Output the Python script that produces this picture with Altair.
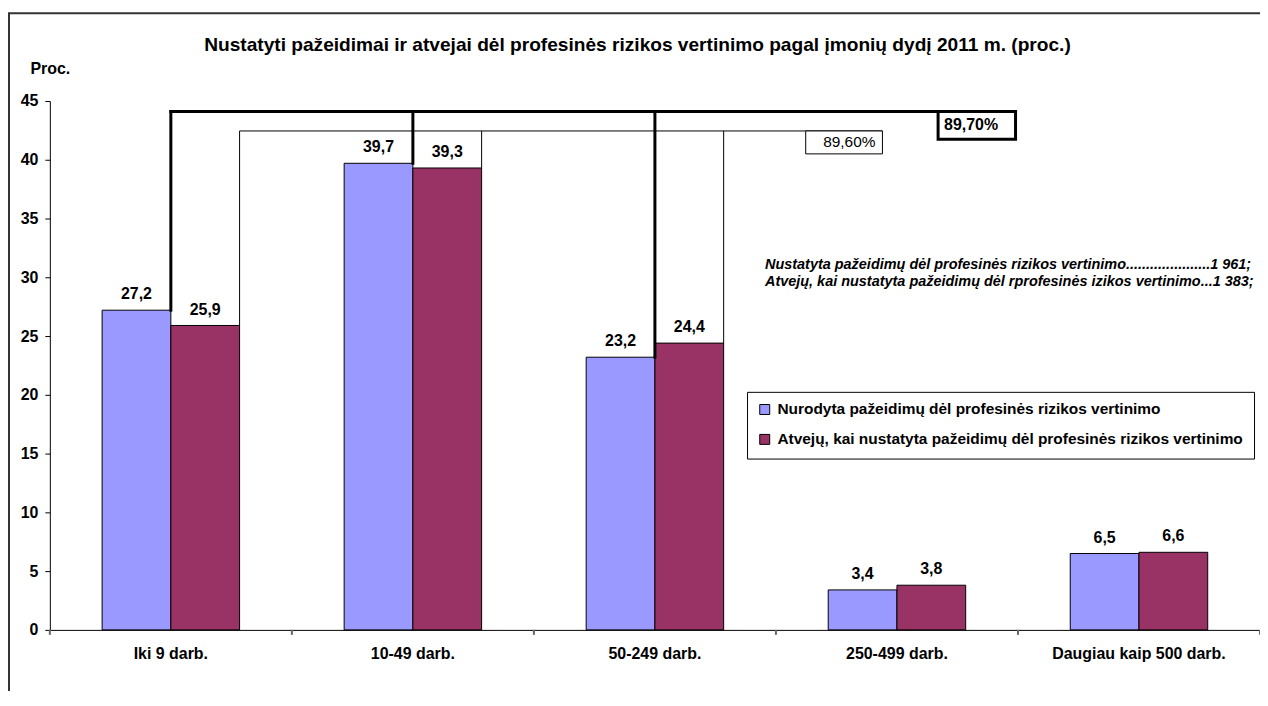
import altair as alt
import pandas as pd

FONT = "Liberation Sans"

# ---------------- data ----------------
categories = ["Iki 9 darb.", "10-49 darb.", "50-249 darb.", "250-499 darb.", "Daugiau kaip 500 darb."]
series_names = [
    "Nurodyta pažeidimų dėl profesinės rizikos vertinimo",
    "Atvejų, kai nustatyta pažeidimų dėl profesinės rizikos vertinimo",
]
values_nurodyta = [27.2, 39.7, 23.2, 3.4, 6.5]
values_atveju = [25.9, 39.3, 24.4, 3.8, 6.6]
series_colors = ["#9999FF", "#993366"]
y_tick_values = [0, 5, 10, 15, 20, 25, 30, 35, 40, 45]
chart_title = "Nustatyti pažeidimai ir atvejai dėl profesinės rizikos vertinimo pagal įmonių dydį 2011 m. (proc.)"
y_title = "Proc."
note_lines = [
    "Nustatyta pažeidimų dėl profesinės rizikos vertinimo.....................1 961;",
    "Atvejų, kai nustatyta pažeidimų dėl rprofesinės izikos vertinimo...1 383;",
]
share_labels = ["89,70%", "89,60%"]
bracketed_count = 3  # first three size groups are summed

# ---------------- layout ----------------
W, H = 1215, 531
P_IN, P_OUT = 0.432, 0.216
Y_MAX = 45
LEVEL_THICK, LEVEL_THIN = 44.1, 42.45
BOX_THICK = dict(x0=3.67, x1=3.99, y1=41.75)
BOX_THIN = dict(x0=3.123, x1=3.44, y1=40.5)

rows = []
for i, c in enumerate(categories):
    for s, vals in zip(series_names, [values_nurodyta, values_atveju]):
        rows.append({"cat": c, "series": s, "value": vals[i]})
bars_df = pd.DataFrame(rows)

x_band = alt.X(
    "cat:N",
    sort=categories,
    scale=alt.Scale(domain=categories, paddingInner=P_IN, paddingOuter=P_OUT),
    axis=alt.Axis(
        title=None, labelFont=FONT, labelFontSize=16, labelFontWeight="bold",
        labelColor="black", labelAngle=0, labelPadding=16, ticks=False,
        domainColor="black", grid=False,
    ),
)
x_off = alt.XOffset("series:N", sort=series_names,
                    scale=alt.Scale(domain=series_names, paddingInner=0, paddingOuter=0))
y_scale = alt.Scale(domain=[0, Y_MAX], nice=False, zero=True)
y_val = alt.Y(
    "value:Q",
    scale=y_scale,
    axis=alt.Axis(
        values=y_tick_values, title=y_title, titleAngle=0, titleAlign="left",
        titleBaseline="alphabetic", titleX=-20, titleY=-28, titleFont=FONT,
        titleFontSize=16, titleFontWeight="bold", titleColor="black",
        labelFont=FONT, labelFontSize=16, labelFontWeight="bold", labelColor="black",
        labelPadding=7, tickSize=5, tickColor="black", domainColor="black", grid=False,
    ),
)

bars = alt.Chart(bars_df).mark_bar(stroke="black", strokeWidth=1).encode(
    x=x_band, xOffset=x_off, y=y_val,
    color=alt.Color(
        "series:N", sort=series_names,
        scale=alt.Scale(domain=series_names, range=series_colors),
        legend=alt.Legend(
            title=None, orient="none", legendX=700, legendY=292, direction="vertical",
            fillColor="white", strokeColor="black", padding=10, rowPadding=13,
            symbolType="square", symbolSize=100, symbolStrokeColor="black",
            symbolStrokeWidth=1, labelFont=FONT, labelFontSize=15.5,
            labelFontWeight="bold", labelColor="black", labelOffset=5, labelLimit=1000,
        ),
    ),
)

value_labels = alt.Chart(bars_df).transform_calculate(
    lbl="replace(format(datum.value, '.1f'), '.', ',')"
).mark_text(font=FONT, fontSize=16, fontWeight="bold", color="black",
            baseline="alphabetic", dy=-11).encode(
    x=x_band, xOffset=x_off, y=y_val, text="lbl:N"
)

main = alt.layer(bars, value_labels)

# ---------------- bracket annotations (independent quantitative x) ----------------
x_scale_q = alt.Scale(domain=[0, len(categories)], nice=False, zero=False)
x_q = alt.X("px:Q", scale=x_scale_q, axis=None)
x_q2 = alt.X2("px2:Q")

blue_edge = P_OUT + (1 - P_IN) / 2
red_edge = P_OUT + (1 - P_IN)

# category-boundary ticks on the x axis
tick_df = pd.DataFrame({"px": list(range(len(categories) + 1))})
x_ticks = alt.Chart(tick_df).mark_rule(color="#666666", strokeWidth=2).encode(
    x=x_q, y=alt.value(H), y2=alt.value(H + 5))

thick_v = pd.DataFrame({"px": [i + blue_edge for i in range(bracketed_count)],
                        "value": values_nurodyta[:bracketed_count]})
thin_v = pd.DataFrame({"px": [i + red_edge for i in range(bracketed_count)],
                       "value": values_atveju[:bracketed_count]})

v_thick = alt.Chart(thick_v).mark_rule(color="black", strokeWidth=3, strokeCap="square").encode(
    x=x_q, y=y_val, y2=alt.datum(LEVEL_THICK))
v_thin = alt.Chart(thin_v).mark_rule(color="black", strokeWidth=1).encode(
    x=x_q, y=y_val, y2=alt.datum(LEVEL_THIN))

h_thick = alt.Chart(pd.DataFrame({"px": [blue_edge], "px2": [BOX_THICK["x1"]], "value": [LEVEL_THICK]})
                    ).mark_rule(color="black", strokeWidth=3, strokeCap="square").encode(x=x_q, x2=x_q2, y=y_val)
h_thin = alt.Chart(pd.DataFrame({"px": [red_edge], "px2": [BOX_THIN["x1"]], "value": [LEVEL_THIN]})
                   ).mark_rule(color="black", strokeWidth=1).encode(x=x_q, x2=x_q2, y=y_val)

box_df = pd.DataFrame({
    "px": [BOX_THICK["x0"], BOX_THIN["x0"]],
    "px2": [BOX_THICK["x1"], BOX_THIN["x1"]],
    "value": [LEVEL_THICK, LEVEL_THIN],
    "bottom": [BOX_THICK["y1"], BOX_THIN["y1"]],
})
txt_df = pd.DataFrame({
    "px": [BOX_THICK["x0"], BOX_THIN["x1"]],
    "value": [(LEVEL_THICK + BOX_THICK["y1"]) / 2, (LEVEL_THIN + BOX_THIN["y1"]) / 2],
    "label": share_labels,
})
box_thick = alt.Chart(box_df.iloc[[0]]).mark_rect(fill="white", stroke="black", strokeWidth=3).encode(
    x=x_q, x2=x_q2, y=y_val, y2="bottom:Q")
box_thin = alt.Chart(box_df.iloc[[1]]).mark_rect(fill="white", stroke="black", strokeWidth=1).encode(
    x=x_q, x2=x_q2, y=y_val, y2="bottom:Q")
txt_thick = alt.Chart(txt_df.iloc[[0]]).mark_text(
    font=FONT, fontSize=16, fontWeight="bold", color="black", align="left", baseline="middle", dx=6
).encode(x=x_q, y=y_val, text="label:N")
txt_thin = alt.Chart(txt_df.iloc[[1]]).mark_text(
    font=FONT, fontSize=15.5, color="black", align="right", baseline="middle", dx=-7
).encode(x=x_q, y=y_val, text="label:N")

annot = alt.layer(x_ticks, v_thick, v_thin, h_thin, h_thick, box_thin, box_thick, txt_thin, txt_thick)

# ---------------- free texts and frame ----------------
one = alt.Data(values=[{}])
title_mark = alt.Chart(one).mark_text(
    text=chart_title, font=FONT, fontSize=19.2, fontWeight="bold", color="black",
    align="center", baseline="middle").encode(x=alt.value(590), y=alt.value(-56))
note1 = alt.Chart(one).mark_text(
    text=note_lines[0], font=FONT, fontSize=14.5, fontWeight="bold", fontStyle="italic",
    color="black", align="left", baseline="middle").encode(x=alt.value(718), y=alt.value(165))
note2 = alt.Chart(one).mark_text(
    text=note_lines[1], font=FONT, fontSize=14.5, fontWeight="bold", fontStyle="italic",
    color="black", align="left", baseline="middle").encode(x=alt.value(718), y=alt.value(182))
frame_top = alt.Chart(one).mark_rule(color="#333333", strokeWidth=2).encode(
    x=alt.value(-42), x2=alt.value(W + 10), y=alt.value(-88))
frame_left = alt.Chart(one).mark_rule(color="#333333", strokeWidth=2).encode(
    x=alt.value(-41), y=alt.value(-88), y2=alt.value(H + 80))

chart = alt.layer(main, annot, title_mark, note1, note2, frame_top, frame_left).resolve_scale(
    x="independent"
).properties(
    width=W, height=H,
    autosize=alt.AutoSizeParams(type="none"),
    padding={"left": 42, "top": 92, "right": 0, "bottom": 60},
    background="white",
).configure_view(stroke=None)

chart.save("out.html", embed_options={"renderer": "svg", "actions": False})
